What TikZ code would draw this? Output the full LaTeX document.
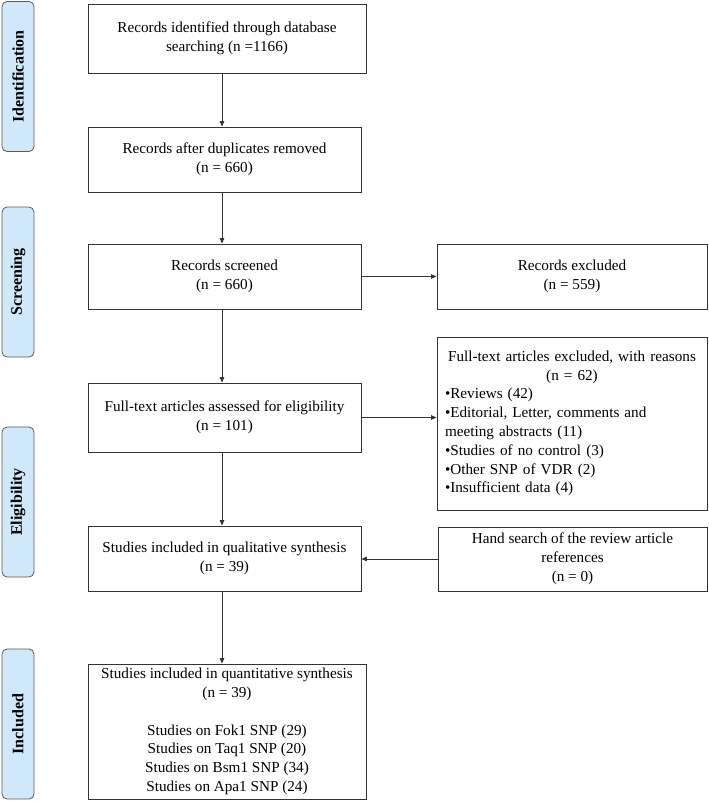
\documentclass[tikz,border=0pt]{standalone}
\usepackage{fontspec}
\setmainfont{Liberation Serif}
\usetikzlibrary{arrows.meta}
\definecolor{sidefill}{HTML}{CFE9FB}
\definecolor{sidedraw}{HTML}{5A5A5A}
\definecolor{linecol}{HTML}{333333}
\begin{document}
\begin{tikzpicture}[x=1pt,y=-1pt,
  box/.style={draw=linecol, line width=0.9pt, inner sep=0pt, align=center,
    font=\fontsize{15.2}{18.8}\selectfont},
  side/.style={draw=sidedraw, fill=sidefill, line width=0.8pt, rounded corners=5pt,
    minimum width=150pt, minimum height=32pt, inner sep=0pt, rotate=90,
    font=\fontsize{16}{18}\selectfont\bfseries},
  arr/.style={draw=linecol, line width=0.9pt, -{Triangle[length=5.5pt,width=4.5pt]}}]
\useasboundingbox (0,0) rectangle (709,801);

% phase labels
\node[side] (ident) at (18,76.5) {Identification};
\node[side] (screen) at (18,282) {Screening};
\node[side] (elig) at (18,502) {Eligibility};
\node[side] (incl) at (18,724) {Included};

% main boxes
\node[box, minimum width=278pt, minimum height=69pt] (b1) at (227,38.5)
  {Records identified through database\\searching (n =1166)};
\node[box, minimum width=273pt, minimum height=65pt] (b2) at (224.5,159.5)
  {Records after duplicates removed\\(n = 660)};
\node[box, minimum width=273pt, minimum height=65pt] (b3) at (224.5,276.5)
  {Records screened\\(n = 660)};
\node[box, minimum width=270pt, minimum height=65pt] (ex1) at (572,276.5)
  {Records excluded\\(n = 559)};
\node[box, minimum width=273pt, minimum height=69pt] (b4) at (224.5,417.5)
  {Full-text articles assessed for eligibility\\(n = 101)};
\node[box, minimum width=270pt, minimum height=173pt, text width=254pt] (ex2) at (572,423.5)
  {\centering Full-text articles excluded, with reasons\\(n = 62)\par
   \raggedright •Reviews (42)\\
   •Editorial, Letter, comments and\\
   meeting abstracts (11)\\
   •Studies of no control (3)\\
   •Other SNP of VDR (2)\\
   •Insufficient data (4)\par};
\node[box, minimum width=269pt, minimum height=64pt] (hand) at (572.5,559)
  {Hand search of the review article\\references\\(n = 0)};
\node[box, minimum width=273pt, minimum height=65pt] (b5) at (224.5,558.5)
  {Studies included in qualitative synthesis\\(n = 39)};
\node[box, minimum width=278pt, minimum height=135pt] (b6) at (227,731.5)
  {Studies included in quantitative synthesis\\(n = 39)\\[18.8pt]
   Studies on Fok1 SNP (29)\\Studies on Taq1 SNP (20)\\
   Studies on Bsm1 SNP (34)\\Studies on Apa1 SNP (24)};

% connectors
\draw[arr] (b1.south -| 222,0) -- (b2.north -| 222,0);
\draw[arr] (b2.south -| 222,0) -- (b3.north -| 222,0);
\draw[arr] (b3.south -| 222,0) -- (b4.north -| 222,0);
\draw[arr] (b4.south -| 222,0) -- (b5.north -| 222,0);
\draw[arr] (b5.south -| 222,0) -- (b6.north -| 222,0);
\draw[arr] (b3.east) -- (ex1.west);
\draw[arr] (b4.east) -- (b4.east -| ex2.west);
\draw[arr] (hand.west) -- (hand.west -| b5.east);
\end{tikzpicture}
\end{document}
